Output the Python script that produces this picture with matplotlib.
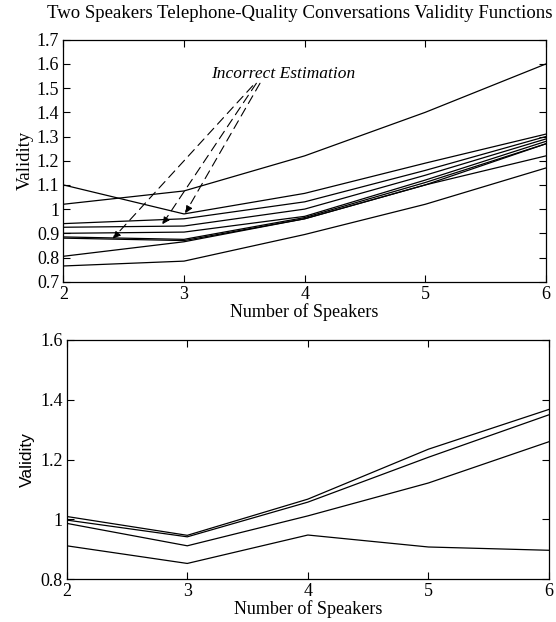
import matplotlib.pyplot as plt
import numpy as np

plt.rcParams['font.family'] = 'Liberation Serif'

speakers = [2, 3, 4, 5, 6]

# top panel: validity functions of the two-speaker conversations
top_curves = [
    [1.02, 1.075, 1.22, 1.40, 1.60],
    [1.10, 0.98, 1.065, 1.19, 1.31],
    [0.94, 0.96, 1.03, 1.16, 1.30],
    [0.925, 0.93, 1.00, 1.14, 1.29],
    [0.90, 0.905, 0.97, 1.12, 1.28],
    [0.885, 0.875, 0.965, 1.11, 1.27],
    [0.88, 0.87, 0.96, 1.10, 1.22],
    [0.805, 0.865, 0.96, 1.10, 1.27],
    [0.765, 0.785, 0.895, 1.02, 1.17],
]

# bottom panel
bottom_curves = [
    [1.01, 0.947, 1.068, 1.235, 1.368],
    [0.998, 0.942, 1.058, 1.208, 1.35],
    [0.987, 0.912, 1.012, 1.122, 1.26],
    [0.912, 0.853, 0.948, 0.908, 0.897],
]

# arrows for the wrong estimates (tail -> head)
arrow_tails = [(3.63, 1.52), (3.60, 1.52), (3.57, 1.51)]
arrow_heads = [(3.01, 0.983), (2.82, 0.937), (2.41, 0.878)]

fig = plt.figure(figsize=(5.56, 6.22), dpi=100)
ax1 = fig.add_axes([63.3 / 556, 1 - 281.7 / 622, 482.7 / 556, 242 / 622])
ax2 = fig.add_axes([66.7 / 556, 1 - 579.3 / 622, 482.3 / 556, 239.3 / 622])

for c in top_curves:
    ax1.plot(speakers, c, color='black', lw=0.9)
for c in bottom_curves:
    ax2.plot(speakers, c, color='black', lw=0.9)

for tail, head in zip(arrow_tails, arrow_heads):
    ax1.annotate('', xy=head, xytext=tail,
                 arrowprops=dict(arrowstyle='-|>', color='black', lw=0.8,
                                 linestyle=(0, (8, 5)), mutation_scale=11,
                                 shrinkA=0, shrinkB=0))
ax1.text(3.82, 1.56, 'Incorrect Estimation', style='italic',
         fontsize=12.5, ha='center', va='center')

ax1.set_xlim(2, 6)
ax1.set_ylim(0.7, 1.7)
ax1.set_xticks(speakers)
ax1.set_yticks(np.arange(0.7, 1.71, 0.1))
ax1.set_yticklabels(['0.7', '0.8', '0.9', '1', '1.1', '1.2', '1.3', '1.4',
                     '1.5', '1.6', '1.7'])
ax1.set_xlabel('Number of Speakers', fontsize=13, labelpad=0)
ax1.set_ylabel('Validity', fontsize=13.5, labelpad=2)
fig.text(0.54, 1 - 13 / 622, 'Two Speakers Telephone-Quality Conversations Validity Functions',
         fontsize=13.5, ha='center', va='center')

ax2.set_xlim(2, 6)
ax2.set_ylim(0.8, 1.6)
ax2.set_xticks(speakers)
ax2.set_yticks([0.8, 1.0, 1.2, 1.4, 1.6])
ax2.set_yticklabels(['0.8', '1', '1.2', '1.4', '1.6'])
ax2.set_xlabel('Number of Speakers', fontsize=13, labelpad=0)
ax2.set_ylabel('Validity', fontsize=12.5, family='Liberation Sans', labelpad=4)

for ax in (ax1, ax2):
    ax.tick_params(direction='in', top=True, right=True, length=5, width=0.8,
                   labelsize=13, pad=3)
    for s in ax.spines.values():
        s.set_linewidth(0.9)

fig.savefig('out.png', dpi=100)
